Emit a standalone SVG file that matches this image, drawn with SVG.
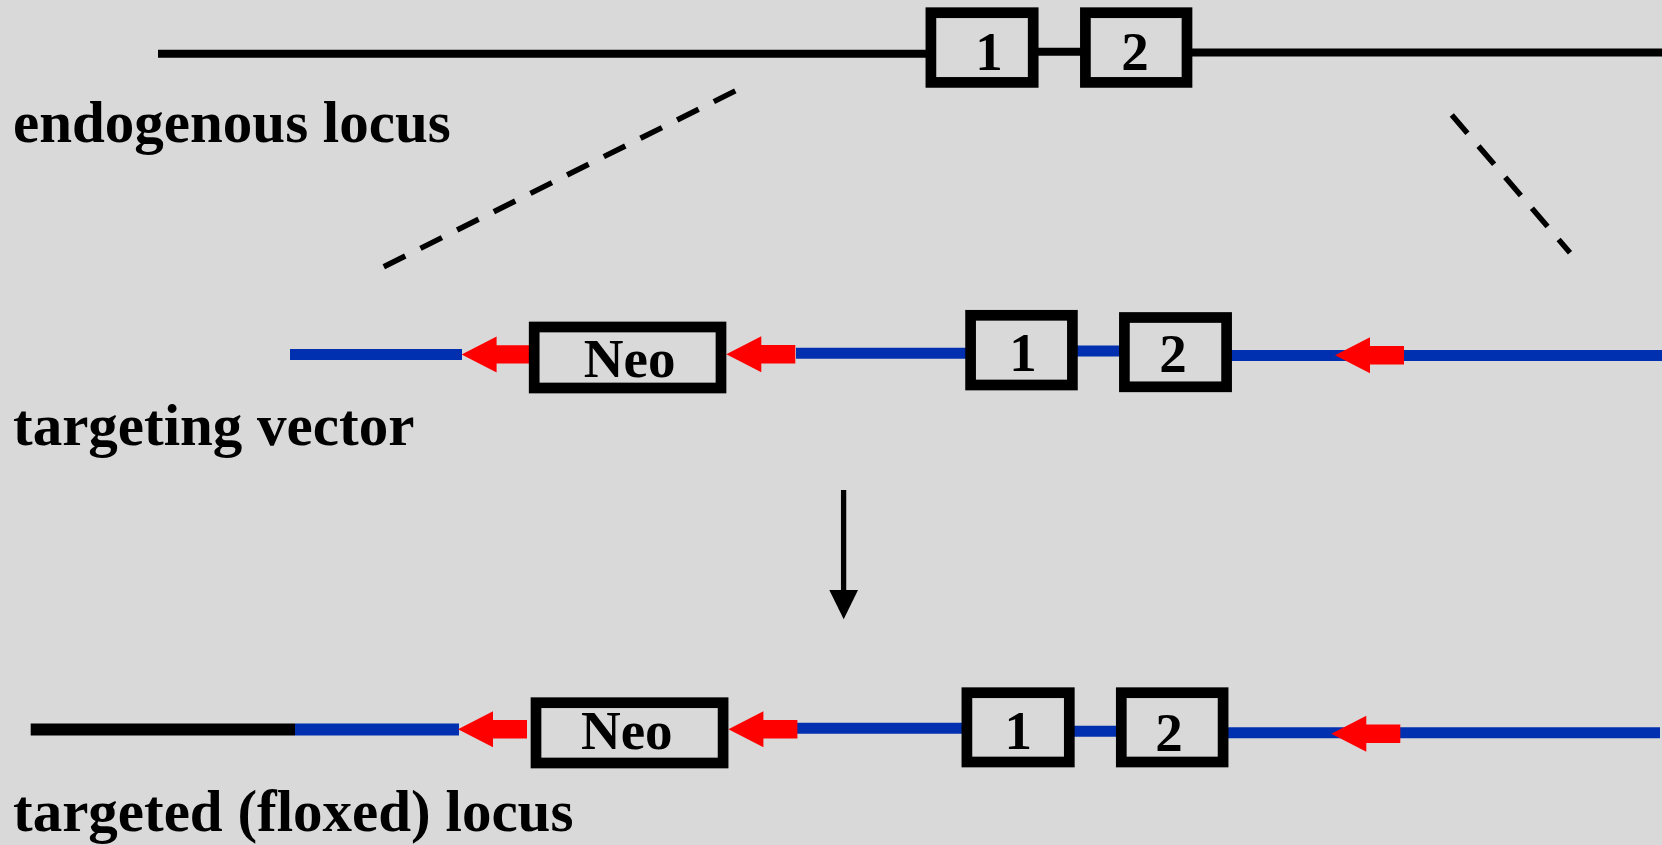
<svg xmlns="http://www.w3.org/2000/svg" xmlns:xlink="http://www.w3.org/1999/xlink" width="1662" height="845" viewBox="0 0 1662 845">
  <style>
    .lbl { font-family: "Liberation Serif", "Times New Roman", serif; font-weight: bold; font-size: 59px; fill: #000; }
    .box { fill: none; stroke: #000; stroke-width: 10.7; }
    .boxtxt { font-family: "Liberation Serif", "Times New Roman", serif; font-weight: bold; font-size: 55px; fill: #000; text-anchor: middle; }
    .dna { stroke: #000; stroke-width: 8; fill: none; }
    .vec { stroke: #0030b0; stroke-width: 11; fill: none; }
    .chr { stroke: #000; stroke-width: 12; fill: none; }
    .dash { stroke: #000; stroke-width: 5.5; fill: none; stroke-dasharray: 24 17; }
    .loxp { fill: #ff0000; }
  </style>
  <defs>
    <!-- loxP site: left-pointing block arrow, tip at origin -->
    <path id="loxp" d="M0,0 L35,-18 L35,-9.2 L69,-9.2 L69,9.2 L35,9.2 L35,18 Z"/>
  </defs>

  <rect x="0" y="0" width="1662" height="845" fill="#d9d9d9"/>

  <g id="connectors">
    <!-- endogenous locus -->
    <line class="dna" x1="158" y1="53.8" x2="926" y2="53.8"/>
    <line class="dna" x1="1038" y1="51.7" x2="1081" y2="51.7"/>
    <line class="dna" x1="1192" y1="52.5" x2="1662" y2="52.5"/>
    <!-- homology arms -->
    <line class="dash" x1="383.8" y1="266.7" x2="738.5" y2="89.3"/>
    <line class="dash" x1="1451.8" y1="115" x2="1570" y2="252.7"/>
    <!-- targeting vector backbone -->
    <line class="vec" x1="290" y1="354.5" x2="462" y2="354.5"/>
    <line class="vec" x1="796" y1="353.3" x2="966" y2="353.3"/>
    <line class="vec" x1="1077" y1="351" x2="1120" y2="351"/>
    <line class="vec" x1="1231" y1="355.5" x2="1662" y2="355.5"/>
    <!-- recombination step -->
    <line x1="843.6" y1="490" x2="843.6" y2="592" stroke="#000" stroke-width="5.3"/>
    <polygon points="829.3,590 858,590 843.7,619.3" fill="#000"/>
    <!-- targeted locus -->
    <line class="chr" x1="30.7" y1="729.5" x2="295" y2="729.5"/>
    <line class="vec" x1="295" y1="729.5" x2="459" y2="729.5" style="stroke-width:12"/>
    <line class="vec" x1="796" y1="728.3" x2="962" y2="728.3"/>
    <line class="vec" x1="1074" y1="731.2" x2="1117" y2="731.2"/>
    <line class="vec" x1="1228" y1="732.8" x2="1660" y2="732.8"/>
    <!-- loxP sites -->
    <use xlink:href="#loxp" class="loxp" transform="translate(461.6,354.4)"/>
    <use xlink:href="#loxp" class="loxp" transform="translate(726.3,354.2)"/>
    <use xlink:href="#loxp" class="loxp" transform="translate(1335,355.2)"/>
    <use xlink:href="#loxp" class="loxp" transform="translate(458,729.2)"/>
    <use xlink:href="#loxp" class="loxp" transform="translate(728.4,729.2)"/>
    <use xlink:href="#loxp" class="loxp" transform="translate(1331.3,733.7)"/>
  </g>

  <!-- endogenous locus -->
  <g id="endo-exon1">
    <rect class="box" x="930.9" y="12.7" width="102.3" height="69.7"/>
    <text class="boxtxt" x="989" y="70">1</text>
  </g>
  <g id="endo-exon2">
    <rect class="box" x="1085.4" y="12.7" width="101.6" height="69.7"/>
    <text class="boxtxt" x="1135" y="70">2</text>
  </g>
  <g id="label-endogenous">
    <text class="lbl" x="13" y="142">endogenous locus</text>
  </g>

  <!-- targeting vector -->
  <g id="vec-neo">
    <rect class="box" x="534.2" y="327" width="186.8" height="61"/>
    <text class="boxtxt" x="629.6" y="377.3">Neo</text>
  </g>
  <g id="vec-exon1">
    <rect class="box" x="970.6" y="315.3" width="101.8" height="69.7"/>
    <text class="boxtxt" x="1023" y="370.7">1</text>
  </g>
  <g id="vec-exon2">
    <rect class="box" x="1124.4" y="317.5" width="102.2" height="69.3"/>
    <text class="boxtxt" x="1173" y="372.3">2</text>
  </g>
  <g id="label-vector">
    <text class="lbl" x="13" y="445">targeting vector</text>
  </g>

  <!-- targeted (floxed) locus -->
  <g id="flox-neo">
    <rect class="box" x="536" y="702.7" width="187.1" height="60.3"/>
    <text class="boxtxt" x="626.8" y="749">Neo</text>
  </g>
  <g id="flox-exon1">
    <rect class="box" x="966.9" y="692.7" width="102.4" height="69.3"/>
    <text class="boxtxt" x="1018.3" y="749.3">1</text>
  </g>
  <g id="flox-exon2">
    <rect class="box" x="1121.3" y="692.7" width="101.8" height="69.3"/>
    <text class="boxtxt" x="1169" y="750.7">2</text>
  </g>
  <g id="label-targeted">
    <text class="lbl" x="13" y="831">targeted (floxed) locus</text>
  </g>
</svg>
